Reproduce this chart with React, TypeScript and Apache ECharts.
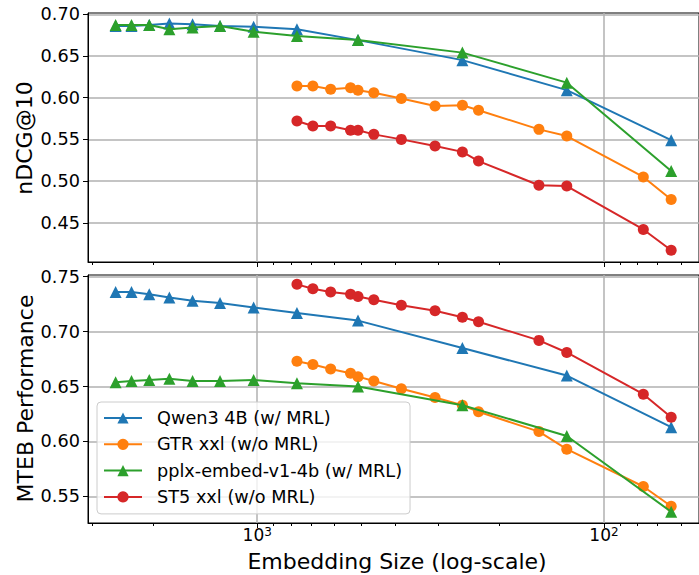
import React, { useEffect, useRef } from 'react';
import * as echarts from 'echarts';

// Embedding sizes
const dimsMRL = [2560, 2304, 2048, 1792, 1536, 1280, 1024, 768, 512, 256, 128, 64];
const dimsNoMRL = [768, 691, 614, 538, 512, 461, 384, 307, 256, 230, 154, 128, 77, 64];

// Top panel: nDCG@10
const qwenNdcg = [0.686, 0.686, 0.687, 0.689, 0.688, 0.686, 0.685, 0.682, 0.669, 0.645, 0.609, 0.549];
const pplxNdcg = [0.687, 0.687, 0.687, 0.682, 0.684, 0.686, 0.679, 0.674, 0.669, 0.654, 0.618, 0.512];
const gtrNdcg = [0.614, 0.614, 0.610, 0.612, 0.609, 0.606, 0.599, 0.590, 0.591, 0.585, 0.562, 0.554, 0.505, 0.478];
const st5Ndcg = [0.572, 0.566, 0.566, 0.561, 0.561, 0.556, 0.550, 0.542, 0.535, 0.524, 0.495, 0.494, 0.442, 0.417];

// Bottom panel: MTEB performance
const qwenMteb = [0.736, 0.736, 0.734, 0.731, 0.728, 0.726, 0.722, 0.717, 0.710, 0.685, 0.660, 0.613];
const pplxMteb = [0.654, 0.655, 0.656, 0.657, 0.655, 0.655, 0.656, 0.653, 0.650, 0.633, 0.605, 0.536];
const gtrMteb = [0.673, 0.670, 0.666, 0.662, 0.659, 0.655, 0.648, 0.640, 0.633, 0.627, 0.609, 0.593, 0.559, 0.541];
const st5Mteb = [0.743, 0.739, 0.736, 0.734, 0.732, 0.729, 0.724, 0.719, 0.713, 0.709, 0.692, 0.681, 0.643, 0.622];

const seriesNames = ['Qwen3 4B (w/ MRL)', 'GTR xxl (w/o MRL)', 'pplx-embed-v1-4b (w/ MRL)', 'ST5 xxl (w/o MRL)'];

// Ticks
const xMajorTicks = [100, 1000];
const xMinorTicks = [60, 70, 80, 90, 200, 300, 400, 500, 600, 700, 800, 900, 2000, 3000];
const yTicksTop = [0.45, 0.5, 0.55, 0.6, 0.65, 0.7];
const yTicksBottom = [0.55, 0.6, 0.65, 0.7, 0.75];

const FONT = 'DejaVu Sans';
const C_BLUE = '#1f77b4';
const C_ORANGE = '#ff7f0e';
const C_GREEN = '#2ca02c';
const C_RED = '#d62728';

const X_MIN = 53.2;
const X_MAX = 3076;

function mkSeries(name: string, dims: number[], vals: number[], color: string, symbol: string, size: number, grid: number, z: number) {
  return {
    type: 'line',
    name,
    xAxisIndex: grid * 2,
    yAxisIndex: grid,
    data: dims.map((d, i) => [d, vals[i]]),
    symbol,
    symbolSize: size,
    showSymbol: true,
    itemStyle: { color },
    lineStyle: { color, width: 2 },
    z,
  };
}

function majorX(gridIndex: number, showLabels: boolean) {
  return {
    type: 'log',
    logBase: 10,
    gridIndex,
    min: X_MIN,
    max: X_MAX,
    inverse: true,
    position: 'bottom',
    offset: 0,
    axisLine: { show: true, onZero: false, lineStyle: { color: '#000', width: 1 } },
    axisTick: { show: true, customValues: xMajorTicks, length: 5, lineStyle: { color: '#000', width: 1 } },
    axisLabel: {
      show: showLabels,
      customValues: xMajorTicks,
      margin: 3,
      formatter: (v: number) => `{b|10}{s|${Math.round(Math.log10(v))}}`,
      rich: {
        b: { fontSize: 17, fontFamily: FONT, color: '#000', lineHeight: 17, padding: [4, 0, 0, 0], verticalAlign: 'bottom' },
        s: { fontSize: 12, fontFamily: FONT, color: '#000', lineHeight: 12, verticalAlign: 'top' },
      },
    },
    splitLine: { show: true, lineStyle: { color: '#b0b0b0', width: 1.5 } },
    minorTick: { show: false },
    minorSplitLine: { show: false },
  };
}

function minorX(gridIndex: number) {
  return {
    type: 'log',
    logBase: 10,
    gridIndex,
    min: X_MIN,
    max: X_MAX,
    inverse: true,
    position: 'bottom',
    offset: 0,
    axisLine: { show: false },
    axisTick: { show: true, customValues: xMinorTicks, length: 3, lineStyle: { color: '#000', width: 1 } },
    axisLabel: { show: false },
    splitLine: { show: false },
  };
}

function yAxisCfg(gridIndex: number, min: number, max: number, ticks: number[]) {
  return {
    type: 'value',
    gridIndex,
    min,
    max,
    axisLine: { show: true, lineStyle: { color: '#000', width: 1 } },
    axisTick: { show: true, customValues: ticks, length: 5, lineStyle: { color: '#000', width: 1 } },
    axisLabel: {
      customValues: ticks,
      formatter: (v: number) => v.toFixed(2),
      fontSize: 17.7,
      fontFamily: FONT,
      color: '#000',
      margin: 8,
    },
    splitLine: { show: true, lineStyle: { color: '#b0b0b0', width: 1.5 } },
  };
}

export default function App() {
  const ref = useRef<HTMLDivElement>(null);
  useEffect(() => {
    if (!ref.current) return;
    const chart = echarts.init(ref.current, null, { renderer: 'svg' });
    const option: any = {
      animation: false,
      backgroundColor: '#ffffff',
      grid: [
        { left: 88, top: 13, width: 616, height: 249, show: true, borderColor: '#000', borderWidth: 1, containLabel: false },
        { left: 88, top: 275, width: 616, height: 248, show: true, borderColor: '#000', borderWidth: 1, containLabel: false },
      ],
      xAxis: [majorX(0, false), minorX(0), majorX(1, true), minorX(1)],
      yAxis: [yAxisCfg(0, 0.403, 0.7015, yTicksTop), yAxisCfg(1, 0.5258, 0.7515, yTicksBottom)],
      legend: {
        orient: 'vertical',
        left: 97,
        top: 402,
        data: seriesNames,
        itemWidth: 38,
        itemHeight: 14,
        itemGap: 6.3,
        padding: [6, 8, 7, 6],
        backgroundColor: 'rgba(255,255,255,0.8)',
        borderColor: '#cccccc',
        borderWidth: 1,
        borderRadius: 4,
        textStyle: { fontSize: 17.7, fontFamily: FONT, color: '#000', lineHeight: 20, padding: [0, 0, 0, 10] },
      },
      graphic: [
        {
          type: 'text', x: 24.5, y: 138, rotation: Math.PI / 2,
          style: { text: 'nDCG@10', fontSize: 22, fontFamily: FONT, fill: '#000', align: 'center', verticalAlign: 'middle' },
        },
        {
          type: 'text', x: 25, y: 398.5, rotation: Math.PI / 2,
          style: { text: 'MTEB Performance', fontSize: 22, fontFamily: FONT, fill: '#000', align: 'center', verticalAlign: 'middle' },
        },
        {
          type: 'text', x: 397, y: 561.5,
          style: { text: 'Embedding Size (log-scale)', fontSize: 22, fontFamily: FONT, fill: '#000', align: 'center', verticalAlign: 'middle' },
        },
      ],
      series: [
        mkSeries(seriesNames[0], dimsMRL, qwenNdcg, C_BLUE, 'triangle', 12, 0, 2),
        mkSeries(seriesNames[1], dimsNoMRL, gtrNdcg, C_ORANGE, 'circle', 11, 0, 3),
        mkSeries(seriesNames[2], dimsMRL, pplxNdcg, C_GREEN, 'triangle', 12, 0, 4),
        mkSeries(seriesNames[3], dimsNoMRL, st5Ndcg, C_RED, 'circle', 11, 0, 5),
        mkSeries(seriesNames[0], dimsMRL, qwenMteb, C_BLUE, 'triangle', 12, 1, 2),
        mkSeries(seriesNames[1], dimsNoMRL, gtrMteb, C_ORANGE, 'circle', 11, 1, 3),
        mkSeries(seriesNames[2], dimsMRL, pplxMteb, C_GREEN, 'triangle', 12, 1, 4),
        mkSeries(seriesNames[3], dimsNoMRL, st5Mteb, C_RED, 'circle', 11, 1, 5),
      ],
    };
    chart.setOption(option);
    return () => chart.dispose();
  }, []);
  return <div ref={ref} style={{ position: 'absolute', left: 0, top: 0, width: 699, height: 575 }} />;
}
